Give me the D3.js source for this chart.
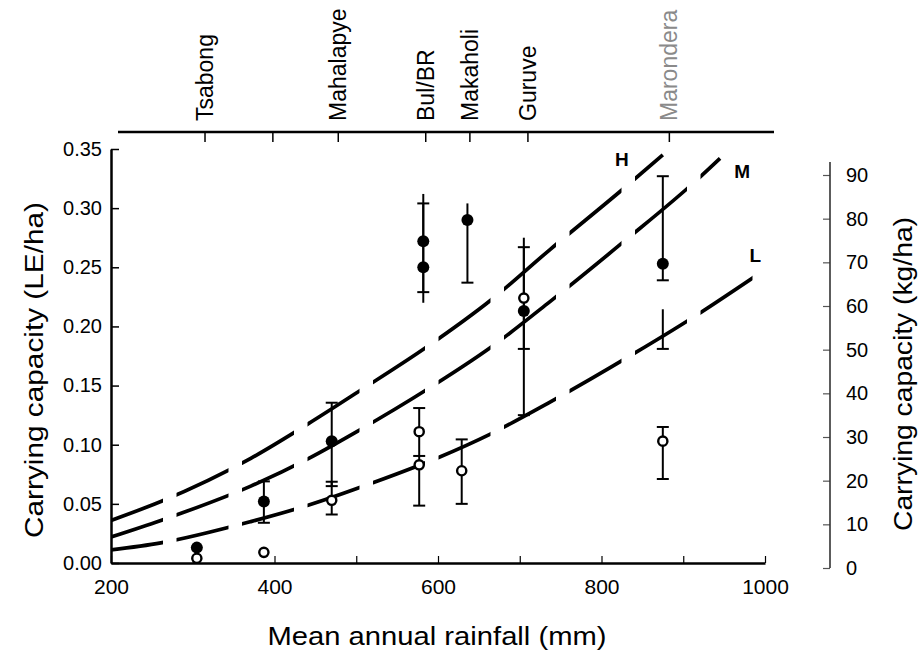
<!DOCTYPE html>
<html>
<head>
<meta charset="utf-8">
<script src="https://cdn.jsdelivr.net/npm/d3@7"></script>
<style>
  html, body { margin: 0; padding: 0; background: #fff; }
  svg { display: block; font-family: "Liberation Sans", Arial, Helvetica, sans-serif; }
</style>
</head>
<body>
<svg id="chart" width="920" height="654"></svg>
<script>
// Axis ticks
const rainTicks = [200, 300, 400, 500, 600, 700, 800, 900, 1000];
const leTicks = [0, 0.05, 0.10, 0.15, 0.20, 0.25, 0.30, 0.35];
const kgTicks = [0, 10, 20, 30, 40, 50, 60, 70, 80, 90];

// Sites along the top axis (rainfall, mm); one tick has no name
const siteNames = ["Tsabong", "", "Mahalapye", "Bul/BR", "Makaholi", "Guruve", "Marondera"];
const siteRain = [315, 398, 478, 585, 639, 710, 883];

// Model curves: carrying capacity (LE/ha) against rainfall (mm)
const curveH = [[200, 0.036], [261, 0.052], [371, 0.0885], [442, 0.118], [503, 0.145], [587, 0.183],
  [666, 0.223], [737, 0.265], [826, 0.316], [875, 0.345]];
const curveM = [[200, 0.022], [261, 0.036], [371, 0.065], [442, 0.0885], [503, 0.112], [585, 0.146],
  [666, 0.183], [737, 0.221], [826, 0.271], [917, 0.324], [945, 0.342]];
const curveL = [[200, 0.011], [261, 0.017], [371, 0.035], [442, 0.049], [521, 0.068], [600, 0.089],
  [664, 0.109], [737, 0.136], [842, 0.178], [906, 0.205], [987, 0.242]];
const curveNames = ["H", "M", "L"];
const curveLabelRain = [825, 972, 988];
const curveLabelValue = [0.341, 0.331, 0.260];

// Observed points
const filledRain = [305, 387, 470, 582, 582, 636, 705, 875];
const filledValue = [0.013, 0.052, 0.103, 0.272, 0.250, 0.290, 0.213, 0.253];
const openRain = [305, 387, 470, 577, 577, 629, 705, 875];
const openValue = [0.004, 0.009, 0.053, 0.111, 0.083, 0.078, 0.224, 0.103];

// Error bars: rainfall, low, high, cap at low end, cap at high end
const barRain = [387, 470, 470, 582, 582, 577, 577, 636, 629, 705, 705, 875, 875, 875];
const barLow = [0.034, 0.065, 0.041, 0.220, 0.229, 0.0905, 0.0485, 0.237, 0.050, 0.181, 0.125, 0.239, 0.181, 0.071];
const barHigh = [0.069, 0.1355, 0.0687, 0.304, 0.312, 0.131, 0.0905, 0.304, 0.1045, 0.275, 0.267, 0.327, 0.2145, 0.115];
const barCapLow = [1, 1, 1, 0, 1, 1, 1, 1, 1, 1, 1, 1, 1, 1];
const barCapHigh = [1, 1, 1, 1, 0, 1, 0, 0, 1, 0, 1, 1, 0, 1];

const svg = d3.select("#chart");

const x = d3.scaleLinear().domain([200, 1000]).range([111, 765]);
const y = d3.scaleLinear().domain([0, 0.35]).range([563, 149]);
const yKg = d3.scaleLinear().domain([0, 90]).range([568, 175]);

const tickFont = "20px";

// Left axis (LE/ha), ticks pointing into the plot
const gLeft = svg.append("g").attr("transform", `translate(${x.range()[0]},0)`)
  .call(d3.axisLeft(y).tickValues(leTicks).tickFormat(d3.format(".2f")).tickSize(-8).tickSizeOuter(0).tickPadding(9));
gLeft.select(".domain").attr("stroke-width", 2.5);
gLeft.selectAll(".tick line").attr("stroke-width", 1.5);
gLeft.selectAll("text").attr("font-size", tickFont).attr("fill", "#000");

// Bottom axis (rainfall)
const gBottom = svg.append("g").attr("transform", `translate(0,${y.range()[0]})`)
  .call(d3.axisBottom(x).tickValues(rainTicks).tickFormat(d => d % 200 === 0 ? d : "")
    .tickSize(-7).tickSizeOuter(0).tickPadding(16));
gBottom.select(".domain").attr("stroke-width", 2.5);
gBottom.selectAll(".tick line").attr("stroke-width", 1.2);
gBottom.selectAll("text").attr("font-size", "21px").attr("fill", "#000");

// Right axis (kg/ha)
const rightX = 830;
const gRight = svg.append("g").attr("transform", `translate(${rightX},0)`)
  .call(d3.axisRight(yKg).tickValues(kgTicks).tickSize(-7).tickSizeOuter(0).tickPadding(16));
gRight.select(".domain").remove();
gRight.append("line").attr("x1", 0).attr("x2", 0)
  .attr("y1", yKg(0)).attr("y2", yKg(93)).attr("stroke", "#333").attr("stroke-width", 1.6);
gRight.selectAll(".tick line").attr("stroke", "#555").attr("stroke-width", 1.2);
gRight.selectAll("text").attr("font-size", tickFont).attr("fill", "#000");

// Top axis with site names
const topY = 132;
const gTop = svg.append("g").attr("transform", `translate(0,${topY})`);
gTop.append("line").attr("x1", 118).attr("x2", 774).attr("y1", 0).attr("y2", 0)
  .attr("stroke", "#000").attr("stroke-width", 2.5);
const xTop = d3.scaleLinear().domain(x.domain()).range(x.range());
gTop.selectAll("line.site").data(siteRain).join("line").attr("class", "site")
  .attr("x1", d => xTop(d)).attr("x2", d => xTop(d)).attr("y1", 0).attr("y2", 10)
  .attr("stroke", "#000").attr("stroke-width", 1.5);
gTop.selectAll("text.site").data(siteRain.map((r, i) => ({ r, name: siteNames[i] })).filter(d => d.name))
  .join("text").attr("class", "site")
  .attr("transform", d => `translate(${xTop(d.r) + 8},-11) rotate(-90)`)
  .attr("font-size", "23px")
  .attr("fill", d => d.name === "Marondera" ? "#8a8a8a" : "#000")
  .text(d => d.name);

// Dashed curves: dashes repeat at a fixed horizontal period
const period = 65.5, dashLen = 52;
const clip = svg.append("defs").append("clipPath").attr("id", "dashes");
d3.range(0, 11).forEach(k => {
  clip.append("rect").attr("x", x.range()[0] + k * period).attr("y", 0)
    .attr("width", dashLen).attr("height", 654);
});
const line = d3.line().x(d => x(d[0])).y(d => y(d[1])).curve(d3.curveMonotoneX);
svg.append("g").attr("clip-path", "url(#dashes)")
  .selectAll("path").data([curveH, curveM, curveL]).join("path")
  .attr("d", line).attr("fill", "none").attr("stroke", "#000")
  .attr("stroke-width", 3.7).attr("stroke-linecap", "butt");

svg.selectAll("text.curve").data(curveNames).join("text").attr("class", "curve")
  .attr("x", (d, i) => x(curveLabelRain[i])).attr("y", (d, i) => y(curveLabelValue[i]))
  .attr("dy", "0.36em").attr("text-anchor", "middle")
  .attr("font-size", "19px").attr("font-weight", "bold").text(d => d);

// Error bars
const bars = barRain.map((r, i) => ({ r, lo: barLow[i], hi: barHigh[i], cl: barCapLow[i], ch: barCapHigh[i] }));
const gBars = svg.append("g").attr("stroke", "#000").attr("stroke-width", 2);
gBars.selectAll("line.stem").data(bars).join("line").attr("class", "stem")
  .attr("x1", d => x(d.r)).attr("x2", d => x(d.r)).attr("y1", d => y(d.lo)).attr("y2", d => y(d.hi));
const caps = [];
bars.forEach(d => {
  if (d.cl) caps.push({ r: d.r, v: d.lo });
  if (d.ch) caps.push({ r: d.r, v: d.hi });
});
gBars.selectAll("line.cap").data(caps).join("line").attr("class", "cap")
  .attr("x1", d => x(d.r) - 6).attr("x2", d => x(d.r) + 6).attr("y1", d => y(d.v)).attr("y2", d => y(d.v));

// Points
svg.append("g").selectAll("circle").data(filledRain.map((r, i) => [r, filledValue[i]])).join("circle")
  .attr("cx", d => x(d[0])).attr("cy", d => y(d[1])).attr("r", 6).attr("fill", "#000");
svg.append("g").selectAll("circle").data(openRain.map((r, i) => [r, openValue[i]])).join("circle")
  .attr("cx", d => x(d[0])).attr("cy", d => y(d[1])).attr("r", 4.6)
  .attr("fill", "#fff").attr("stroke", "#000").attr("stroke-width", 2.4);

// Axis titles
svg.append("text").attr("transform", "translate(34,370) rotate(-90)")
  .attr("text-anchor", "middle").attr("dy", "0.35em").attr("font-size", "26px")
  .attr("textLength", 336).attr("lengthAdjust", "spacingAndGlyphs")
  .text("Carrying capacity (LE/ha)");
svg.append("text").attr("transform", "translate(903,374) rotate(-90)")
  .attr("text-anchor", "middle").attr("dy", "0.35em").attr("font-size", "26px")
  .attr("textLength", 314).attr("lengthAdjust", "spacingAndGlyphs")
  .text("Carrying capacity (kg/ha)");
svg.append("text").attr("x", 437).attr("y", 645)
  .attr("text-anchor", "middle").attr("font-size", "26px")
  .attr("textLength", 339).attr("lengthAdjust", "spacingAndGlyphs")
  .text("Mean annual rainfall (mm)");
</script>
</body>
</html>
